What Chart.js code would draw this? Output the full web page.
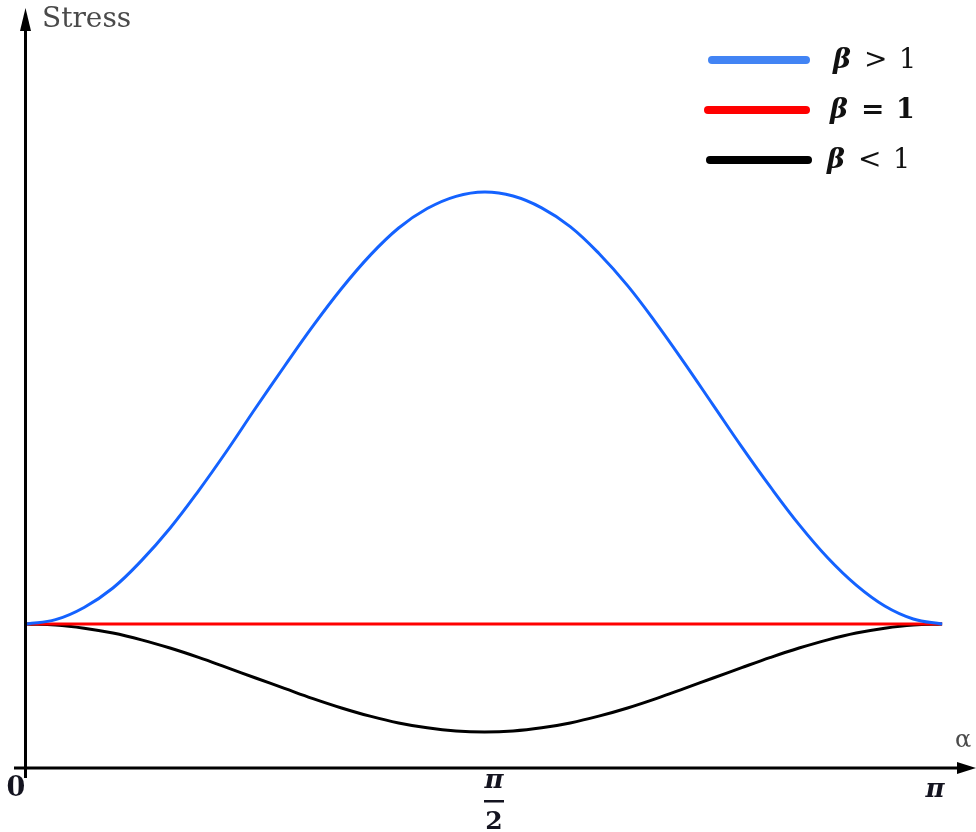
<!DOCTYPE html>
<html>
<head>
<meta charset="utf-8">
<script src="https://cdn.jsdelivr.net/npm/chart.js@4"></script>
<style>
  html, body { margin: 0; padding: 0; background: #fff; }
  #wrap { width: 976px; height: 832px; }
</style>
</head>
<body>
<div id="wrap"><canvas id="stress-chart"></canvas></div>
<script>
// angle alpha from 0 to pi, in steps of pi/32
const alpha = [0, 0.098, 0.196, 0.295, 0.393, 0.491, 0.589, 0.687, 0.785,
               0.884, 0.982, 1.080, 1.178, 1.276, 1.374, 1.473, 1.571,
               1.669, 1.767, 1.865, 1.963, 2.062, 2.160, 2.258, 2.356,
               2.454, 2.553, 2.651, 2.749, 2.847, 2.945, 3.043, 3.142];
// stress (beta = 1 level is 1)
const stressBetaGt1 = [1, 1.03, 1.115, 1.25, 1.44, 1.665, 1.925, 2.205, 2.5,
                       2.79, 3.07, 3.33, 3.56, 3.75, 3.885, 3.97, 4.0,
                       3.972, 3.89, 3.76, 3.575, 3.35, 3.09, 2.81, 2.52,
                       2.23, 1.95, 1.69, 1.46, 1.27, 1.125, 1.035, 1];
const stressBetaEq1 = [1, 1, 1, 1, 1, 1, 1, 1, 1, 1, 1, 1, 1, 1, 1, 1, 1,
                       1, 1, 1, 1, 1, 1, 1, 1, 1, 1, 1, 1, 1, 1, 1, 1];
const stressBetaLt1 = [1, 0.993, 0.971, 0.937, 0.89, 0.833, 0.768, 0.697, 0.625,
                       0.553, 0.482, 0.417, 0.36, 0.313, 0.279, 0.257, 0.25,
                       0.257, 0.279, 0.313, 0.36, 0.417, 0.482, 0.553, 0.625,
                       0.697, 0.768, 0.833, 0.89, 0.937, 0.971, 0.993, 1];
const seriesLabels = ['β > 1', 'β = 1', 'β < 1'];
const xTicks = [0, Math.PI / 2, Math.PI];

const ctxEl = document.getElementById('stress-chart');

function toPoints(ys) {
  return ys.map((y, i) => ({ x: alpha[i], y: y }));
}

// arrows, tick labels and the hand-made legend
const axesPlugin = {
  id: 'axesPlugin',
  afterDraw(chart) {
    const ctx = chart.ctx;
    const xs = chart.scales.x;
    const ys = chart.scales.y;
    const x0 = xs.getPixelForValue(0) - 1.5;
    const y0 = ys.getPixelForValue(0);

    ctx.save();
    ctx.strokeStyle = '#000';
    ctx.fillStyle = '#000';
    ctx.lineWidth = 3;

    // y axis
    ctx.beginPath();
    ctx.moveTo(x0, 778);
    ctx.lineTo(x0, 26);
    ctx.stroke();
    ctx.beginPath();
    ctx.moveTo(x0, 8);
    ctx.lineTo(x0 - 5.5, 31);
    ctx.lineTo(x0 + 5.5, 31);
    ctx.closePath();
    ctx.fill();

    // x axis
    ctx.beginPath();
    ctx.moveTo(14, y0);
    ctx.lineTo(962, y0);
    ctx.stroke();
    ctx.beginPath();
    ctx.moveTo(976, y0);
    ctx.lineTo(957, y0 - 6);
    ctx.lineTo(957, y0 + 6);
    ctx.closePath();
    ctx.fill();

    // axis titles
    ctx.fillStyle = '#4a4a4a';
    ctx.font = '28px "DejaVu Serif"';
    ctx.textAlign = 'left';
    ctx.textBaseline = 'middle';
    ctx.fillText('Stress', 42, 20);
    ctx.font = '24px "DejaVu Serif"';
    ctx.fillText('α', 955, 741);

    // tick labels
    ctx.fillStyle = '#141420';
    ctx.textAlign = 'center';
    ctx.font = 'bold 27px "DejaVu Serif"';
    ctx.fillText('0', xs.getPixelForValue(xTicks[0]) - 11, 789);
    ctx.font = 'bold italic 26px "DejaVu Serif"';
    const xm = xs.getPixelForValue(xTicks[1]) + 9.5;
    ctx.fillText('π', xm, 781);
    ctx.fillRect(xm - 10, 800, 20, 2.5);
    ctx.font = 'bold 25px "DejaVu Serif"';
    ctx.fillText('2', xm, 822);
    ctx.font = 'bold italic 26px "DejaVu Serif"';
    ctx.fillText('π', xs.getPixelForValue(xTicks[2]) - 7, 790);

    // legend
    const legendRows = [
      { y: 60, x1: 712, x2: 806, tx: 833 },
      { y: 110, x1: 708, x2: 806, tx: 830 },
      { y: 160, x1: 710, x2: 808, tx: 827 }
    ];
    const legendColors = ['#4284f4', '#ff0000', '#000000'];
    ctx.lineCap = 'round';
    ctx.textAlign = 'left';
    legendRows.forEach((row, i) => {
      ctx.strokeStyle = legendColors[i];
      ctx.lineWidth = 8;
      ctx.beginPath();
      ctx.moveTo(row.x1, row.y);
      ctx.lineTo(row.x2, row.y);
      ctx.stroke();

      const parts = seriesLabels[i].split(' ');
      const weight = i === 1 ? 'bold ' : '';
      ctx.fillStyle = '#111';
      ctx.font = 'bold italic 27px "DejaVu Serif"';
      ctx.fillText(parts[0], row.tx, row.y + 1);
      ctx.font = weight + '28px "DejaVu Serif"';
      ctx.fillText(parts[1], row.tx + 31, row.y + 1);
      ctx.font = weight + '27px "DejaVu Serif"';
      ctx.fillText(parts[2], row.tx + 66, row.y + 1);
    });
    ctx.restore();
  }
};

new Chart(ctxEl, {
  type: 'line',
  data: {
    datasets: [
      {
        label: seriesLabels[0],
        data: toPoints(stressBetaGt1),
        borderColor: '#1462ff',
        borderWidth: 3,
        tension: 0.4,
        pointRadius: 0,
        clip: false
      },
      {
        label: seriesLabels[1],
        data: toPoints(stressBetaEq1),
        borderColor: '#ff0000',
        borderWidth: 3,
        pointRadius: 0,
        clip: false
      },
      {
        label: seriesLabels[2],
        data: toPoints(stressBetaLt1),
        borderColor: '#000000',
        borderWidth: 3,
        tension: 0.4,
        pointRadius: 0,
        clip: false
      }
    ]
  },
  options: {
    responsive: true,
    maintainAspectRatio: false,
    animation: false,
    layout: { padding: { left: 27, right: 34, top: 48, bottom: 64 } },
    plugins: {
      legend: { display: false },
      tooltip: { enabled: false }
    },
    scales: {
      x: { type: 'linear', min: 0, max: Math.PI, display: false },
      y: { type: 'linear', min: 0, max: 5, display: false }
    }
  },
  plugins: [axesPlugin]
});
</script>
</body>
</html>
